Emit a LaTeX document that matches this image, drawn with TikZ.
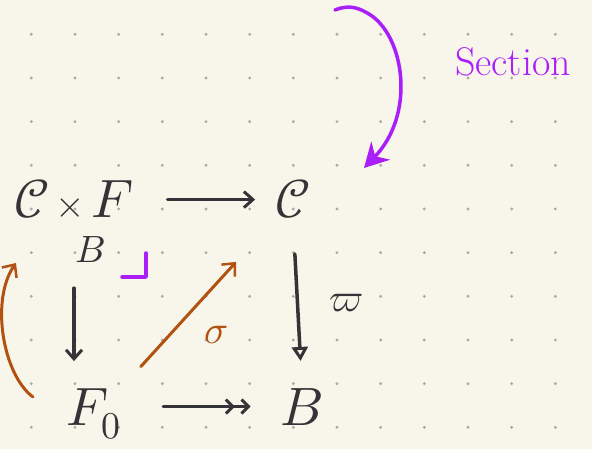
\documentclass[tikz,border=0pt]{standalone}
\usepackage{unicode-math}
\setmathfont{Latin Modern Math}
\usetikzlibrary{arrows.meta, positioning, calc}
\definecolor{papercolor}{RGB}{248,246,234}
\definecolor{dotcolor}{RGB}{172,170,162}
\definecolor{inkcolor}{RGB}{52,52,56}
\definecolor{sectioncolor}{RGB}{170,30,250}
\definecolor{liftcolor}{RGB}{178,82,18}

\begin{document}
\begin{tikzpicture}[
    x=1pt, y=-1pt,
    obj/.style={inner sep=0pt, text=inkcolor, font=\fontsize{54}{60}\selectfont},
    subobj/.style={inner sep=0pt, text=inkcolor, font=\fontsize{38}{42}\selectfont},
    map/.style={-{Straight Barb[length=9pt,width=16pt,line width=3pt]}, line width=3.5pt, draw=inkcolor, line cap=round},
    fibmap/.style={-{Triangle[open,length=14pt,width=16pt,line width=3pt]}, line width=3.5pt, draw=inkcolor, line cap=round},
    epimap/.style={-{Straight Barb[length=7pt,width=14pt,line width=3pt,sep=5pt] Straight Barb[length=7pt,width=14pt,line width=3pt]}, line width=3.5pt, draw=inkcolor, line cap=round},
    liftmap/.style={-{Straight Barb[length=10pt,width=18pt,line width=2.5pt]}, line width=3pt, draw=liftcolor, line cap=round},
    sectionmap/.style={-{Stealth[length=24pt,width=26pt]}, line width=3.5pt, draw=sectioncolor, line cap=round},
    cornermark/.style={line width=3.5pt, draw=sectioncolor, line cap=round, line join=round},
    maplabel/.style={inner sep=0pt, font=\fontsize{40}{44}\selectfont}
]

    % Paper and dot grid
    \useasboundingbox (0,0) rectangle (592,449);
    \clip (0,0) rectangle (592,449);
    \fill[papercolor] (0,0) rectangle (592,449);
    \foreach \i in {0,...,12}
        \foreach \j in {0,...,9}
            \fill[dotcolor] (31.3+43.67*\i, 34.3+43.67*\j) circle (1.6pt);

    % Objects
    \node[obj, anchor=base] (prod) at (74,218) {$\mathcal{C}\mkern2mu{\scriptstyle\times}\mkern2mu F$};
    \node[subobj, anchor=base] (prodsub) at (90,262) {$B$};
    \node[obj, anchor=base] (C) at (293,218) {$\mathcal{C}$};
    \node[obj, anchor=base] (F0) at (94,425) {$F_0$};
    \node[obj, anchor=base] (B) at (302,425) {$B$};

    % Square
    \draw[map, shorten <=34pt, shorten >=20pt] (prod.east |- C.center) -- (C.west);
    \draw[map, shorten <=26pt, shorten >=27pt] (prodsub.south -| prod.base) -- (prod.base |- F0.north);
    \draw[fibmap, shorten <=35pt, shorten >=27pt] (C.south) -- (B.north)
        node[maplabel, text=inkcolor, midway, right=30pt] (varpilabel) {$\varpi$};
    \draw[epimap, shorten <=42pt, shorten >=30pt] (F0.east |- B.center) -- (B.west);

    % Pullback corner
    \coordinate (pb) at (146,277);
    \draw[cornermark] ($(pb)+(0,-24)$) -- (pb) -- ++(-24,0);

    % Lift
    \draw[liftmap, shorten <=29pt, shorten >=58pt] (F0.north east) -- (C.south west)
        node[maplabel, text=liftcolor, pos=0.45, below right=18pt] (sigmalabel) {$\sigma$};
    \coordinate (lifttail) at (33,397);
    \coordinate (lifthead) at (16,263);
    \draw[liftmap] (lifttail) .. controls (3,375) and (-10,300) .. (lifthead);

    % Section
    \coordinate (sectail) at (335,10);
    \coordinate (sechead) at (364,168);
    \draw[sectionmap] (sectail) .. controls (350,4) and (360,8) .. (372,16)
        .. controls (405,40) and (415,115) .. (sechead);
    \node[text=sectioncolor, font=\fontsize{40}{44}\selectfont] (seclabel) at (513,62) {Section};

\end{tikzpicture}
\end{document}
